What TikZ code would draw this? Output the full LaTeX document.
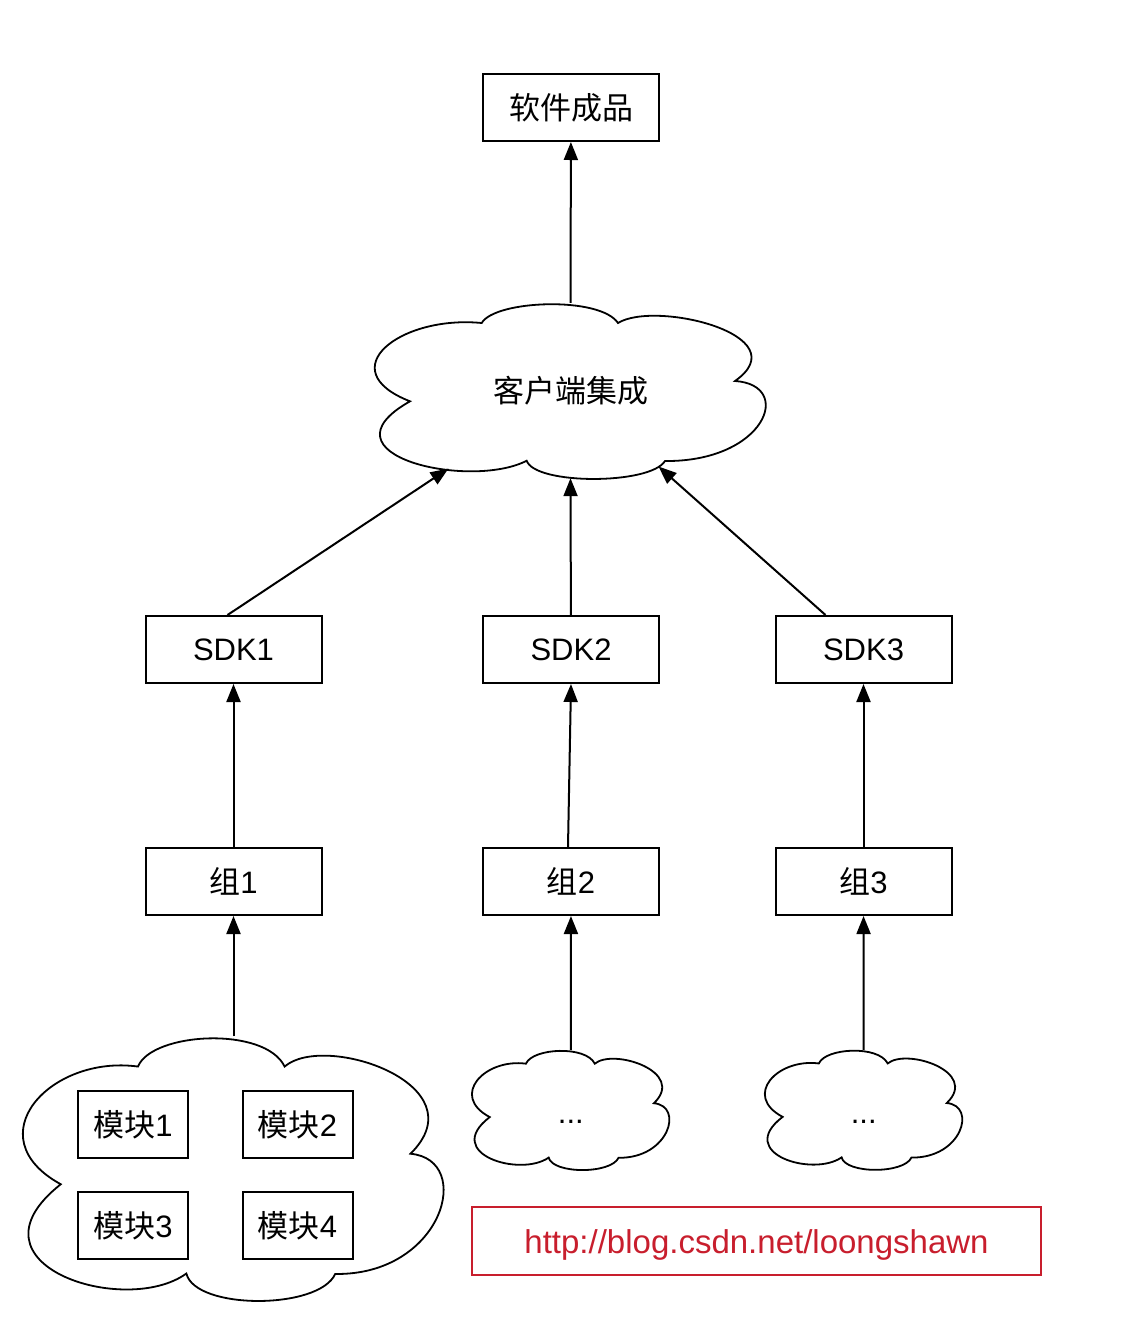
\documentclass[tikz,border=0pt]{standalone}
\usepackage{fontspec}
\setmainfont{Liberation Sans}
\newfontfamily\cjk{Noto Sans CJK SC}
\usetikzlibrary{arrows.meta}
\definecolor{urlred}{RGB}{200,30,45}

% cloud outline round a named node, drawn at 393x175 and scaled
\newcommand{\drawcloud}[3]{%
  \draw[line width=1.8pt,shift={(#1.center)},xscale=#2,yscale=#3]
    (-88.8,-67.5) .. controls (-75.5,-90.5) and (29.5,-94.5) .. (47.5,-67.5)
    .. controls (84.5,-90.5) and (229.5,-55.5) .. (164.5,-9.5)
    .. controls (224.5,-5.5) and (194.5,71.5) .. (94.5,70.5)
    .. controls (79.5,94.5) and (-35.5,94.5) .. (-43.8,70.2)
    .. controls (-100.5,99.5) and (-255.5,64.5) .. (-160.5,10.8)
    .. controls (-240.5,-20.5) and (-170.5,-75.5) .. (-88.8,-67.5) -- cycle;}

\begin{document}
\begin{tikzpicture}[x=1pt,y=-1pt,
    box/.style={draw,line width=2pt,minimum width=176pt,minimum height=67pt,
      inner sep=0pt,font=\fontsize{31}{36}\selectfont},
    modbox/.style={box,minimum width=110pt},
    cloudbox/.style={inner sep=0pt,font=\fontsize{31}{36}\selectfont},
    link/.style={-{Triangle[length=18pt,width=14pt]},line width=2pt}]
  \useasboundingbox (0,0) rectangle (1122,1342);
  \node[box] (product) at (571,107.5) {\cjk 软件成品};
  \node[cloudbox,minimum width=393pt,minimum height=175pt] (client) at (570.5,390.5) {\cjk 客户端集成};
  \node[box] (sdk1) at (233.5,649.5) {SDK1};
  \node[box] (sdk2) at (571,649.5) {SDK2};
  \node[box] (sdk3) at (863.5,649.5) {SDK3};
  \node[box] (grp1) at (233.5,881.5) {{\cjk 组}1};
  \node[box] (grp2) at (571,881.5) {{\cjk 组}2};
  \node[box] (grp3) at (863.5,881.5) {{\cjk 组}3};
  \node[cloudbox,minimum width=423pt,minimum height=263pt] (mods) at (233.5,1168) {};
  \node[modbox] (mod1) at (133,1124.5) {{\cjk 模块}1};
  \node[modbox] (mod2) at (297.5,1124.5) {{\cjk 模块}2};
  \node[modbox] (mod3) at (133,1225.5) {{\cjk 模块}3};
  \node[modbox] (mod4) at (297.5,1225.5) {{\cjk 模块}4};
  \node[cloudbox,minimum width=198pt,minimum height=119pt,text height=28pt,text depth=0pt] (more2) at (570.8,1109.7) {...};
  \node[cloudbox,minimum width=198pt,minimum height=119pt,text height=28pt,text depth=0pt] (more3) at (863.7,1109.5) {...};
  \node[draw=urlred,text=urlred,line width=1.8pt,minimum width=569pt,minimum height=68pt,
    text height=24pt,text depth=0pt,font=\fontsize{33}{38}\selectfont] (url) at (756.5,1241) {http://blog.csdn.net/loongshawn};

  \drawcloud{client}{1}{1}
  \drawcloud{mods}{1.076}{1.503}
  \drawcloud{more2}{0.505}{0.682}
  \drawcloud{more3}{0.505}{0.682}

  \coordinate (in1) at ([xshift=-122pt,yshift=-78pt]client.center);
  \coordinate (in3) at ([xshift=88pt,yshift=-76pt]client.center);
  \draw[link] (client.north) -- (product);
  \draw[link] ([xshift=-6pt]sdk1.north) -- (in1);
  \draw[link] (sdk2) -- (client.south);
  \draw[link] ([xshift=-38pt]sdk3.north) -- (in3);
  \draw[link] (grp1) -- (sdk1);
  \draw[link] ([xshift=-3pt]grp2.north) -- (sdk2.south);
  \draw[link] (grp3) -- (sdk3);
  \draw[link] (mods.north) -- (grp1);
  \draw[link] (more2.north) -- (grp2);
  \draw[link] (more3.north) -- (grp3);
\end{tikzpicture}
\end{document}
